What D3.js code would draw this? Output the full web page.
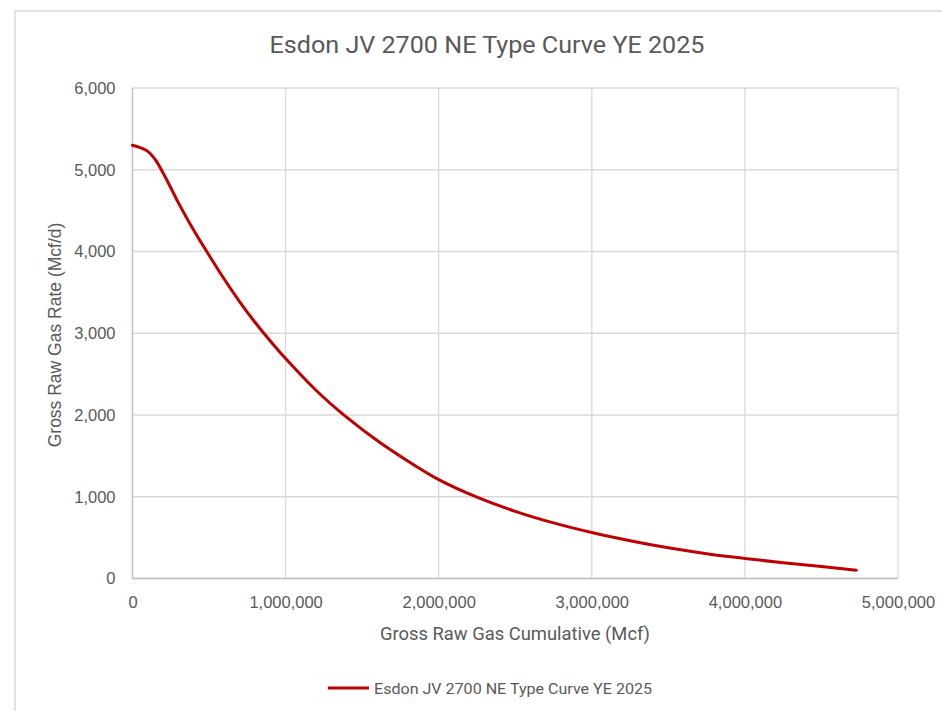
<!DOCTYPE html>
<html>
<head>
<meta charset="utf-8">
<script src="https://cdn.jsdelivr.net/npm/d3@7"></script>
<style>
  html, body { margin: 0; padding: 0; background: #fff; }
  svg { display: block; }
</style>
</head>
<body>
<div id="chart"></div>
<script>
const chartTitle = "Esdon JV 2700 NE Type Curve YE 2025";
const seriesName = "Esdon JV 2700 NE Type Curve YE 2025";
const xAxisTitle = "Gross Raw Gas Cumulative (Mcf)";
const yAxisTitle = "Gross Raw Gas Rate (Mcf/d)";

// Cumulative gas (Mcf)
const cumulative = [0, 50000, 100000, 150000, 200000, 250000, 300000, 400000, 500000, 600000, 700000,
  800000, 900000, 1000000, 1200000, 1400000, 1600000, 1800000, 2000000, 2250000, 2500000,
  2750000, 3000000, 3250000, 3500000, 3750000, 4000000, 4250000, 4500000, 4728000];
// Gas rate (Mcf/d)
const rate = [5300, 5270, 5225, 5120, 4960, 4780, 4595, 4260, 3955, 3660, 3385,
  3135, 2905, 2690, 2300, 1970, 1685, 1435, 1210, 995, 822,
  680, 562, 462, 375, 303, 245, 193, 146, 102];

const xTicks = [0, 1000000, 2000000, 3000000, 4000000, 5000000];
const yTicks = [0, 1000, 2000, 3000, 4000, 5000, 6000];

const W = 942, H = 711;
const plot = { left: 132.5, right: 898, top: 88, bottom: 578.5 };
const textColor = "#595959";
const gridColor = "#d9d9d9";
const lineColor = "#c00000";
const titleFont = "Roboto, 'Liberation Sans', sans-serif";
const tickFont = "'Liberation Sans', Arial, sans-serif";

const svg = d3.select("#chart").append("svg").attr("width", W).attr("height", H);

// outer chart border
svg.append("rect").attr("x", 15).attr("y", 11).attr("width", W).attr("height", H)
  .attr("fill", "#fff").attr("stroke", gridColor).attr("stroke-width", 1.5);

const x = d3.scaleLinear().domain([0, 5000000]).range([plot.left, plot.right]);
const y = d3.scaleLinear().domain([0, 6000]).range([plot.bottom, plot.top]);

// gridlines
const g = svg.append("g");
g.selectAll("line.hgrid").data(yTicks).join("line").attr("class", "hgrid")
  .attr("x1", plot.left).attr("x2", plot.right)
  .attr("y1", d => y(d)).attr("y2", d => y(d))
  .attr("stroke", gridColor).attr("stroke-width", 1.3);
g.selectAll("line.vgrid").data(xTicks).join("line").attr("class", "vgrid")
  .attr("x1", d => x(d)).attr("x2", d => x(d))
  .attr("y1", plot.top).attr("y2", plot.bottom)
  .attr("stroke", gridColor).attr("stroke-width", 1.3);

// axes (labels via d3 axes)
const fmt = d3.format(",");
const xAxis = svg.append("g").attr("transform", `translate(0,${plot.bottom})`)
  .call(d3.axisBottom(x).tickValues(xTicks).tickFormat(fmt).tickSize(0).tickPadding(18));
const yAxis = svg.append("g").attr("transform", `translate(${plot.left},0)`)
  .call(d3.axisLeft(y).tickValues(yTicks).tickFormat(fmt).tickSize(0).tickPadding(17));
[xAxis, yAxis].forEach(a => {
  a.select(".domain").remove();
  a.selectAll("text").attr("fill", textColor).style("font-family", tickFont).style("font-size", "16.5px");
});

// left and bottom axis lines (gray)
svg.append("line").attr("x1", plot.left).attr("x2", plot.left).attr("y1", plot.top).attr("y2", plot.bottom)
  .attr("stroke", "#bfbfbf").attr("stroke-width", 1.3);
svg.append("line").attr("x1", plot.left).attr("x2", plot.right).attr("y1", plot.bottom).attr("y2", plot.bottom)
  .attr("stroke", "#bfbfbf").attr("stroke-width", 1.3);

// curve
const data = cumulative.map((c, i) => ({ c, r: rate[i] }));
svg.append("path").datum(data)
  .attr("fill", "none").attr("stroke", lineColor).attr("stroke-width", 3)
  .attr("stroke-linejoin", "round").attr("stroke-linecap", "round")
  .attr("d", d3.line().x(d => x(d.c)).y(d => y(d.r)).curve(d3.curveCatmullRom.alpha(0.5)));

// title
svg.append("text").attr("x", 487).attr("y", 53).attr("text-anchor", "middle")
  .attr("fill", textColor).style("font-family", titleFont).style("font-size", "23px")
  .attr("textLength", 435).attr("lengthAdjust", "spacingAndGlyphs")
  .text(chartTitle);

// axis titles
svg.append("text").attr("x", 515).attr("y", 640).attr("text-anchor", "middle")
  .attr("fill", textColor).style("font-family", titleFont).style("font-size", "17.5px")
  .attr("textLength", 270).attr("lengthAdjust", "spacingAndGlyphs")
  .text(xAxisTitle);
svg.append("text").attr("transform", "translate(61,335) rotate(-90)").attr("text-anchor", "middle")
  .attr("fill", textColor).style("font-family", tickFont).style("font-size", "17.5px")
  .text(yAxisTitle);

// legend
svg.append("line").attr("x1", 328).attr("x2", 369).attr("y1", 688).attr("y2", 688)
  .attr("stroke", lineColor).attr("stroke-width", 3);
svg.append("text").attr("x", 374).attr("y", 694)
  .attr("fill", textColor).style("font-family", titleFont).style("font-size", "15.5px")
  .attr("textLength", 278).attr("lengthAdjust", "spacingAndGlyphs")
  .text(seriesName);
</script>
</body>
</html>
